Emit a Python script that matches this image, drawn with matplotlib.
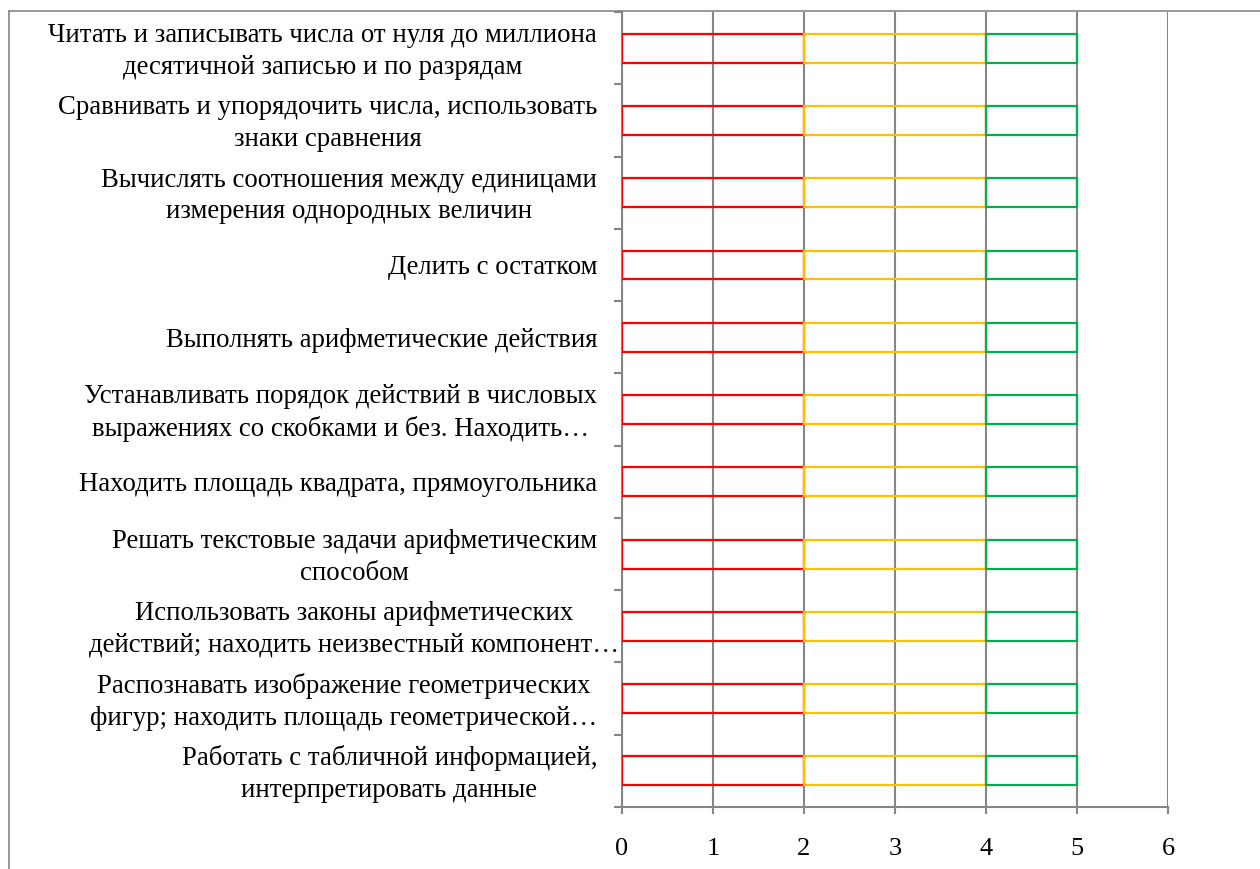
import matplotlib
matplotlib.use("Agg")
import matplotlib.pyplot as plt
from matplotlib.lines import Line2D
from matplotlib.transforms import ScaledTranslation
import numpy as np

plt.rcParams['font.family'] = ['Liberation Serif', 'DejaVu Serif']

categories = [
    "Читать и записывать числа от нуля до миллиона\nдесятичной записью и по разрядам",
    "Сравнивать и упорядочить числа, использовать\nзнаки сравнения",
    "Вычислять соотношения между единицами\nизмерения однородных величин",
    "Делить с остатком",
    "Выполнять арифметические действия",
    "Устанавливать порядок действий в числовых\nвыражениях со скобками и без. Находить…",
    "Находить площадь квадрата, прямоугольника",
    "Решать текстовые задачи арифметическим\nспособом",
    "Использовать законы арифметических\nдействий; находить неизвестный компонент…",
    "Распознавать изображение геометрических\nфигур; находить площадь геометрической…",
    "Работать с табличной информацией,\nинтерпретировать данные",
]
series_red = [2, 2, 2, 2, 2, 2, 2, 2, 2, 2, 2]
series_yellow = [2, 2, 2, 2, 2, 2, 2, 2, 2, 2, 2]
series_green = [1, 1, 1, 1, 1, 1, 1, 1, 1, 1, 1]
x_ticks = [0, 1, 2, 3, 4, 5, 6]

W, H = 1260, 869
fig = plt.figure(figsize=(W / 100, H / 100), dpi=100)
ax = fig.add_axes([622 / W, 1 - 807 / H, (1168 - 622) / W, (807 - 12) / H])

n = len(categories)
y = np.arange(n)
red = np.array(series_red)
yel = np.array(series_yellow)
grn = np.array(series_green)
bh = 0.4
ax.barh(y, red, height=bh, left=0, fill=False, edgecolor='#FF0000', linewidth=1.6, zorder=3)
ax.barh(y, yel, height=bh, left=red, fill=False, edgecolor='#FFC000', linewidth=1.6, zorder=3)
ax.barh(y, grn, height=bh, left=red + yel, fill=False, edgecolor='#00B050', linewidth=1.6, zorder=3)

ax.set_xlim(0, 6)
ax.set_ylim(n - 0.5, -0.5)
ax.set_xticks(x_ticks)
ax.set_xticklabels([str(t) for t in x_ticks], fontsize=19)
ax.set_yticks(y)
ax.set_yticklabels(categories, fontsize=19.3, multialignment='center', linespacing=1.34)
ax.set_yticks(np.arange(n + 1) - 0.5, minor=True)
ax.tick_params(axis='y', which='major', length=0, pad=18)
ax.tick_params(axis='y', which='minor', length=6, width=1.5, color='#868686', direction='out')
ax.tick_params(axis='x', which='major', length=5, width=1.5, color='#868686', direction='out', pad=17.5)

# fine placement of wrapped labels
for i, lbl in enumerate(ax.get_yticklabels()):
    dx = 22 if i == 8 else 0
    dy = 3 if '\n' in categories[i] else 0
    lbl.set_transform(lbl.get_transform() + ScaledTranslation(dx / 100, dy / 100, fig.dpi_scale_trans))

ax.grid(axis='x', color='#868686', linewidth=1.5, zorder=0)
ax.set_axisbelow(True)
for s in ['top', 'right']:
    ax.spines[s].set_visible(False)
for s in ['left', 'bottom']:
    ax.spines[s].set_color('#868686')
    ax.spines[s].set_linewidth(1.5)

# chart area border (left and top edges)
fig.add_artist(Line2D([9 / W, 9 / W], [0, 1 - 11 / H], transform=fig.transFigure, color='#868686', linewidth=1.2))
fig.add_artist(Line2D([9 / W, 1], [1 - 11 / H, 1 - 11 / H], transform=fig.transFigure, color='#868686', linewidth=1.2))

fig.savefig('out.png', dpi=100)
